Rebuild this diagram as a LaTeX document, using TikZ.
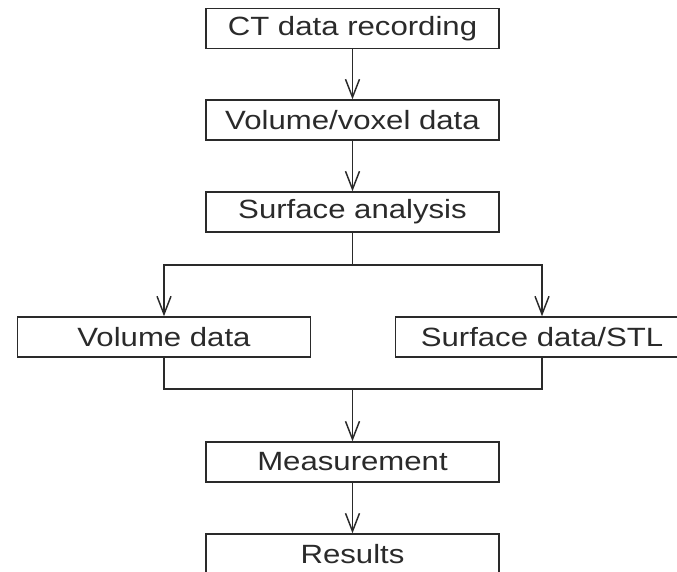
\documentclass[tikz,border=0pt]{standalone}
\usepackage{fontspec}
\setmainfont{Liberation Sans}[FakeStretch=1.18]
\usetikzlibrary{arrows.meta}
\definecolor{ink}{HTML}{2A2A2A}
\tikzset{
  box/.style={draw=ink, line width=1.1pt, rectangle, minimum width=219.75pt, minimum height=30pt, inner sep=0pt, text=ink,
    font=\fontsize{19.8pt}{23pt}\selectfont},
  conn/.style={draw=ink, line width=1.1pt},
  arr/.style={conn, -{Straight Barb[length=13.5pt, width=10.5pt, line width=1.1pt]}}
}
\begin{document}
\begin{tikzpicture}[x=0.75pt, y=-0.75pt]
\useasboundingbox (0,0) rectangle (677,571);
\clip (0,0) rectangle (677,571);
\node[box] (ct)   at (352.5,28.5) {CT data recording};
\node[box] (vox)  at (352.5,120)  {Volume/voxel data};
\node[box] (sa)   at (352.5,212)  {Surface analysis};
\node[box] (vd)   at (164,337)    {Volume data};
\node[box] (sd)   at (542,337)    {Surface data/STL};
\node[box] (meas) at (352.5,462)  {Measurement};
\node[box] (res)  at (352.5,554)  {Results};
\coordinate (br) at (352.5,265);
\coordinate (mg) at (352.5,389);
\draw[arr] (ct.south) -- (vox.north);
\draw[arr] (vox.south) -- (sa.north);
\draw[conn] (sa.south) -- (br);
\draw[arr] (br) -| (vd.north);
\draw[arr] (br) -| (sd.north);
\draw[conn] (vd.south) |- (mg);
\draw[conn] (sd.south) |- (mg);
\draw[arr] (mg) -- (meas.north);
\draw[arr] (meas.south) -- (res.north);
\end{tikzpicture}
\end{document}
